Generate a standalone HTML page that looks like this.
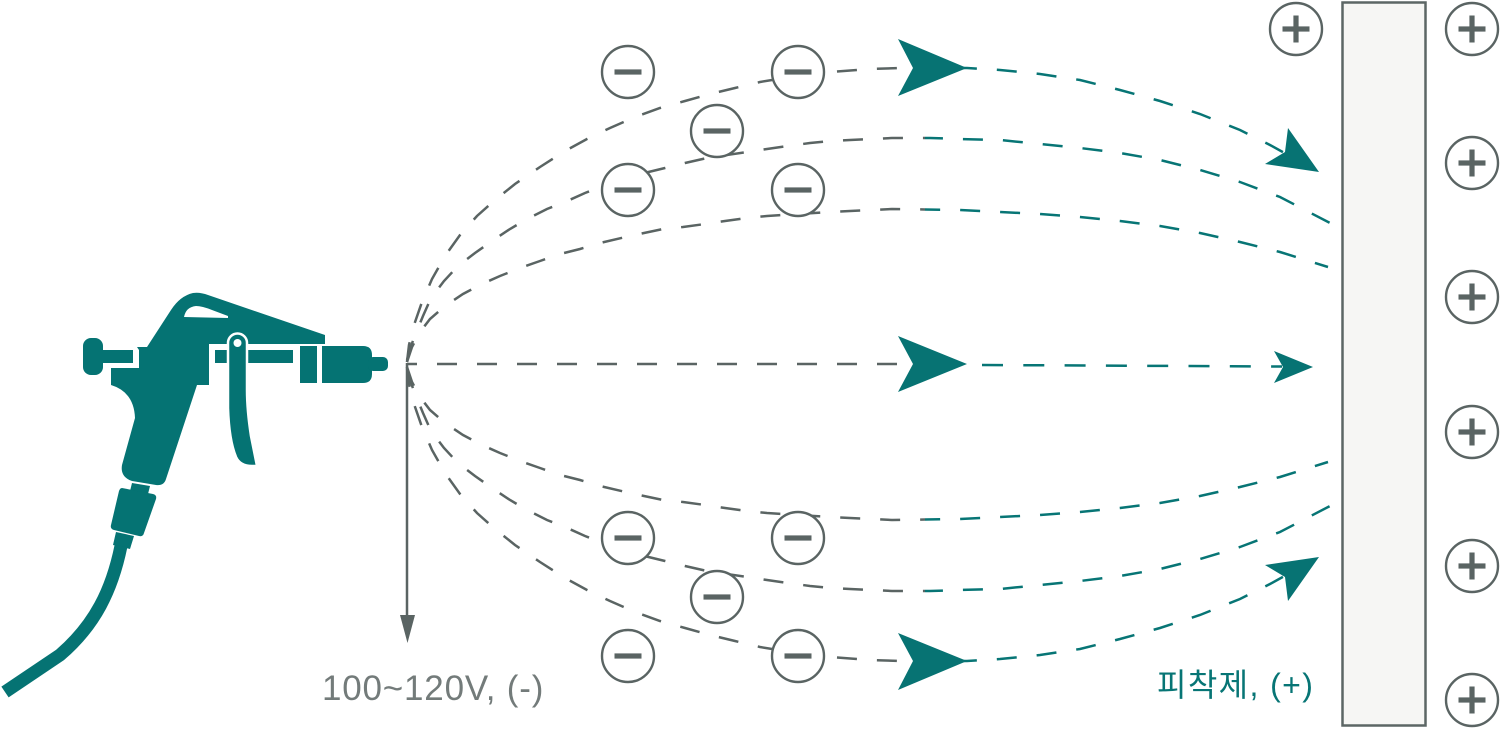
<!DOCTYPE html>
<html><head><meta charset="utf-8"><style>
html,body{margin:0;padding:0;background:#fff;}
svg{display:block;}
</style></head><body>
<svg width="1500" height="729" viewBox="0 0 1500 729" xmlns="http://www.w3.org/2000/svg">
<defs>
<clipPath id="cl"><rect x="0" y="0" width="925" height="729"/></clipPath>
<clipPath id="cr"><rect x="925" y="0" width="575" height="729"/></clipPath>
<g id="curves" fill="none" stroke-width="2.5" stroke-dasharray="20 20">
<path d="M407,362 L409,345 L414,325 L422,302 L432,279 L445,256 L460,235 L477,216 L495,200 L515,184 L540,167 L565,151 L587,139 L610,128 L635,117 L660,108 L685,101 L710,94 L735,88 L760,82 L790,77 L830,72 L870,69 L900,68 L967,68 L1000,70 L1040,74 L1080,80 L1120,90 L1160,101 L1200,114 L1240,130 L1270,145 L1290,156"/>
<path d="M407,360 L411,346 L416,333 L423,316 L431,298 L444,281 L458,266 L475,253 L492,241 L510,229 L527,219 L547,209 L565,202 L585,193 L603,186 L628,177 L665,168 L685,163 L707,158 L747,152 L767,149 L788,146 L810,143 L830,141 L850,140 L872,139 L892,138 L930,138 L960,139 L1000,140 L1040,144 L1080,148 L1120,153 L1160,160 L1200,170 L1240,182 L1280,197 L1330,223"/>
<path d="M407,362 L412,347 L420,332 L430,319 L445,306 L463,294 L482,284 L500,276 L520,268 L540,261 L560,254 L580,249 L600,243 L630,236 L663,229 L683,227 L705,224 L725,221 L747,218 L767,216 L798,214 L830,212 L850,211 L872,210 L892,209 L960,210 L1000,212 L1040,214 L1080,217 L1120,221 L1160,226 L1200,233 L1240,242 L1280,252 L1328,267"/>
</g>
<g id="minus"><circle cx="0" cy="0" r="26" fill="#fff" stroke="#5a6463" stroke-width="2.4"/><rect x="-13.5" y="-2.6" width="27" height="5.2" fill="#5a6463"/></g>
<g id="plus"><circle cx="0" cy="0" r="26" fill="#fff" stroke="#5a6463" stroke-width="2.4"/><rect x="-13.5" y="-2.6" width="27" height="5.2" fill="#5a6463"/><rect x="-2.6" y="-13.5" width="5.2" height="27" fill="#5a6463"/></g>
</defs>

<!-- curves gray part -->
<g clip-path="url(#cl)" stroke="#5a6463">
<use href="#curves"/>
<g transform="translate(0,729) scale(1,-1)"><use href="#curves"/></g>
</g>
<!-- curves teal part -->
<g clip-path="url(#cr)" stroke="#077575">
<use href="#curves"/>
<g transform="translate(0,729) scale(1,-1)"><use href="#curves"/></g>
</g>

<!-- middle line -->
<path d="M407,364 L897,364" stroke="#5a6463" stroke-width="2.5" stroke-dasharray="20 20" stroke-dashoffset="10" fill="none"/>
<path d="M982,365 L1282,366.5" stroke="#077575" stroke-width="2.5" stroke-dasharray="21 20.3" fill="none"/>

<!-- vertical line -->
<line x1="407" y1="363" x2="407" y2="620" stroke="#5a6463" stroke-width="2.5"/>
<polygon points="400,615 415,615 407.5,643" fill="#5a6463"/>

<!-- arrowheads -->
<g fill="#077373">
<polygon points="898,336 967,364 898,392 913,364"/>
<polygon points="898,39 967,68 898,96 913,68"/>
<polygon points="898,690 967,661 898,633 913,661"/>
<polygon points="1274,351 1313,367 1274,383 1283,367"/>
<polygon points="1288,128 1319,172 1265,164 1285,152"/>
<polygon points="1288,601 1319,557 1265,565 1285,577"/>
</g>

<!-- minus circles -->
<use href="#minus" x="628" y="72"/>
<use href="#minus" x="798" y="72"/>
<use href="#minus" x="717" y="131"/>
<use href="#minus" x="628" y="190"/>
<use href="#minus" x="798" y="190"/>
<use href="#minus" x="628" y="538"/>
<use href="#minus" x="798" y="538"/>
<use href="#minus" x="717" y="597"/>
<use href="#minus" x="628" y="656"/>
<use href="#minus" x="798" y="656"/>

<!-- plate -->
<rect x="1342.5" y="2.5" width="83" height="723" fill="#f6f6f4" stroke="#5c6665" stroke-width="2.5"/>

<!-- plus circles -->
<use href="#plus" x="1296" y="29"/>
<use href="#plus" x="1472" y="29"/>
<use href="#plus" x="1472" y="163"/>
<use href="#plus" x="1472" y="297"/>
<use href="#plus" x="1472" y="432"/>
<use href="#plus" x="1472" y="566"/>
<use href="#plus" x="1472" y="700"/>

<!-- spray gun -->
<g fill="#057373">
<rect x="83" y="338" width="20" height="37" rx="8"/>
<rect x="100" y="350" width="33" height="13"/>
<path d="M137,347 L147,347 L171,310 Q180,296 193,293 Q200,292 208,295 L325,335 L325,344 L209,344 L209,385 L197,385 L166,479 Q164,486 156,485 L132,481 Q120,477 122,465 L135,418 Q134,392 111,385 L111,368 L139,368 L139,350 Z"/>
<path d="M184,317 Q186,307 196,306 Q202,306 212,310 L228,316 L228,318 Z" fill="#fff"/>
<rect x="215" y="350" width="12" height="13"/>
<rect x="248" y="350" width="45" height="13"/>
<rect x="300" y="346" width="17" height="37"/>
<path d="M322,346 L363,346 Q372,346 372,355 L372,374 Q372,383 363,383 L322,383 Z"/>
<rect x="368" y="357" width="20" height="14" rx="5"/>
<path d="M228,343 L228,408 Q229,440 236,457 Q240,466 252,466 L257,466 L251,436 Q247,410 247,390 L247,343 A9.5,9.5 0 0 0 228,343 Z" stroke="#fff" stroke-width="2.5"/>
<circle cx="237.5" cy="343" r="4" fill="#fff"/>
<polygon points="132,483 150,486 148,494 130,491"/>
<path d="M122,488 L153,494 Q157,495 156,499 L144,533 Q143,537 139,536 L114,530 Q110,529 111,525 L119,491 Q120,488 122,488 Z"/>
<polygon points="116,532 134,536 130,549 113,545"/>
</g>
<path d="M121,546 C112,590 95,625 60,655 L5,692" fill="none" stroke="#057373" stroke-width="13"/>

<!-- labels -->
<text x="322" y="700" font-family="Liberation Sans, sans-serif" font-size="35" letter-spacing="0.8" fill="#737b7a">100~120V, (-)</text>
<text x="1157" y="696" font-family="Liberation Sans, Noto Sans CJK KR, sans-serif" font-size="32" letter-spacing="1.4" fill="#077575">피착제, (+)</text>
</svg>
</body></html>
